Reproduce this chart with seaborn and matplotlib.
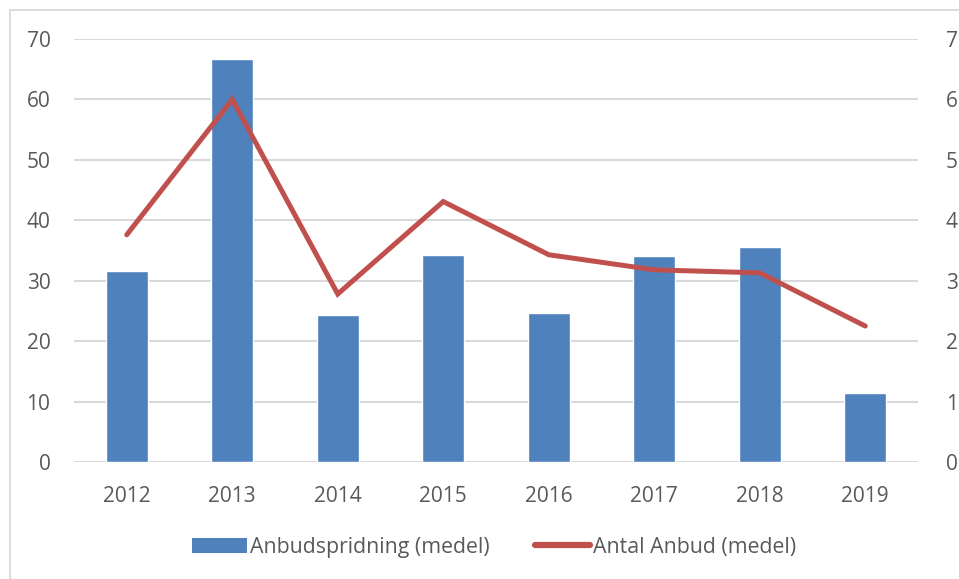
import matplotlib
matplotlib.use("Agg")
import matplotlib.pyplot as plt
import seaborn as sns
import pandas as pd
from matplotlib.patches import Rectangle
from matplotlib.lines import Line2D
from matplotlib.patches import Patch

years = ["2012", "2013", "2014", "2015", "2016", "2017", "2018", "2019"]
spridning = [31.6, 66.7, 24.4, 34.3, 24.6, 34.1, 35.5, 11.5]
antal = [3.76, 6.0, 2.78, 4.31, 3.43, 3.18, 3.13, 2.25]
bar_label = "Anbudspridning (medel)"
line_label = "Antal Anbud (medel)"

df = pd.DataFrame({"year": years, "spridning": spridning, "antal": antal})

sns.set_theme(style="white")
plt.rcParams['font.family'] = ['Open Sans', 'DejaVu Sans']

BLUE = "#4F81BD"
RED = "#C0504D"
GRID = "#D9D9D9"
TXT = "#595959"

fig = plt.figure(figsize=(9.59, 5.79), dpi=100)
ax = fig.add_axes([74/959, 1-462/579, (918-74)/959, (462-39)/579])

sns.barplot(data=df, x="year", y="spridning", color=BLUE, width=0.4,
            saturation=1, ax=ax, zorder=3)
ax.set_ylim(0, 70)
ax.set_xlim(-0.5, 7.5)
ax.set_yticks(range(0, 71, 10))
ax.yaxis.grid(True, color=GRID, linewidth=1.5, zorder=0)
ax.set_axisbelow(True)
for s in ax.spines.values():
    s.set_visible(False)
ax.set_xlabel("")
ax.set_ylabel("")
ax.tick_params(axis="both", length=0, labelsize=15, labelcolor=TXT)
ax.tick_params(axis="x", pad=17)
ax.tick_params(axis="y", pad=17)

ax2 = ax.twinx()
sns.lineplot(x=list(range(len(years))), y=antal, color=RED, linewidth=3.6,
             ax=ax2, solid_capstyle="round", solid_joinstyle="miter")
ax2.set_ylim(0, 7)
ax2.set_yticks(range(0, 8))
for s in ax2.spines.values():
    s.set_visible(False)
ax2.grid(False)
ax2.tick_params(axis="y", length=0, labelsize=15, labelcolor=TXT, pad=20)
ax2.set_ylabel("")

handles = [Patch(facecolor=BLUE, edgecolor="none", label=bar_label),
           Line2D([0], [0], color=RED, linewidth=4.5, solid_capstyle="round", label=line_label)]
leg = fig.legend(handles=handles, loc="center", bbox_to_anchor=(494/959, 1-547/579),
                 ncol=2, frameon=False, fontsize=15.3, handlelength=2.6,
                 handletextpad=0.15, columnspacing=2.1)
for t in leg.get_texts():
    t.set_color(TXT)

fig.patches.append(Rectangle((10/959, -0.1), 1.2, 1.1 - 10/579,
                             transform=fig.transFigure, fill=False,
                             edgecolor=GRID, linewidth=1.3))

fig.savefig("out.png", dpi=100)
